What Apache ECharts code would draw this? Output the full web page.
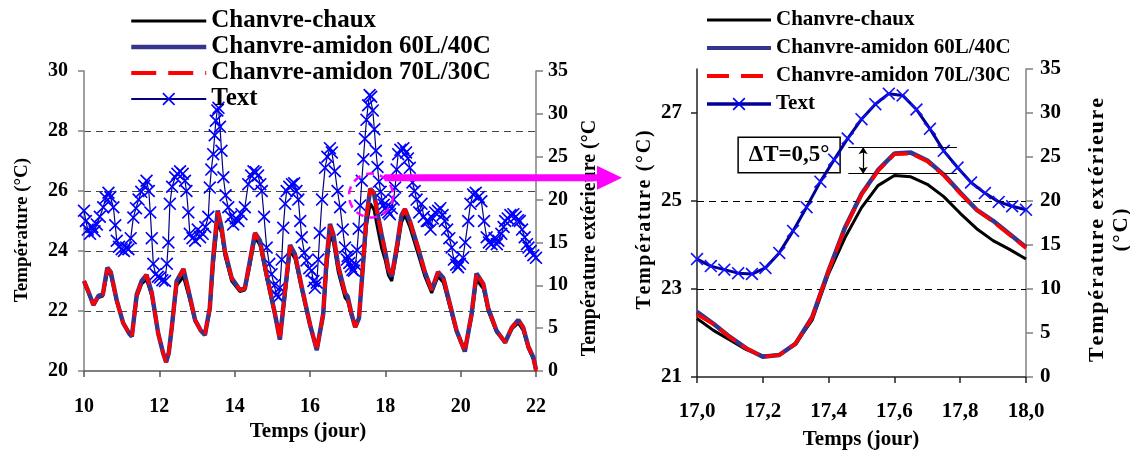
<!DOCTYPE html>
<html><head><meta charset="utf-8">
<script src="https://cdn.jsdelivr.net/npm/echarts@6/dist/echarts.min.js"></script>
<style>html,body{margin:0;padding:0;background:#fff}#c{width:1130px;height:453px}</style>
</head><body><div id="c"></div>
<script>
// ---------------- DATA ----------------
const seriesNames = ['Chanvre-chaux', 'Chanvre-amidon 60L/40C', 'Chanvre-amidon 70L/30C', 'Text'];

// Left chart: days 10-22
const leftDays = [10.0,10.1,10.25,10.38,10.5,10.62,10.71,10.87,11.04,11.2,11.27,11.4,11.53,11.66,11.8,11.97,12.1,12.18,12.25,12.33,12.46,12.64,12.77,12.95,13.1,13.21,13.34,13.43,13.55,13.65,13.74,13.92,14.14,14.27,14.41,14.54,14.67,14.85,15.07,15.2,15.34,15.47,15.6,15.78,16.0,16.18,16.35,16.44,16.53,16.62,16.75,16.93,17.0,17.1,17.2,17.3,17.4,17.5,17.6,17.7,17.8,17.9,18.0,18.08,18.17,18.3,18.43,18.52,18.65,18.87,19.05,19.23,19.4,19.54,19.72,19.89,20.11,20.29,20.42,20.6,20.73,20.95,21.18,21.36,21.53,21.66,21.8,21.93,22.0];
const leftChaux = [22.95,22.65,22.2,22.45,22.5,23.3,23.2,22.3,21.6,21.25,21.15,22.45,22.9,23.05,22.5,21.25,20.6,20.3,20.6,21.4,22.85,23.15,22.55,21.65,21.35,21.2,22.0,23.5,25.0,24.6,23.85,23.0,22.65,22.7,23.55,24.45,24.2,23.1,21.85,21.05,22.55,24.0,23.75,22.7,21.5,20.7,21.8,23.4,24.5,24.3,23.3,22.45,22.33,21.84,21.48,21.76,23.35,24.85,25.58,25.38,24.72,24.1,23.68,23.2,23.0,23.9,24.95,25.2,24.8,23.9,23.15,22.6,23.15,22.95,22.1,21.3,20.65,21.8,23.05,22.75,22.0,21.3,20.95,21.4,21.6,21.35,20.75,20.4,20.0];
const leftAm60 = [23.0,22.7,22.2,22.5,22.55,23.45,23.3,22.35,21.6,21.25,21.15,22.55,23.0,23.2,22.6,21.25,20.6,20.3,20.6,21.45,23.0,23.4,22.7,21.7,21.35,21.2,22.1,23.8,25.35,24.8,24.0,23.1,22.7,22.75,23.7,24.6,24.35,23.2,21.9,21.05,22.7,24.2,23.9,22.8,21.55,20.7,21.9,23.7,24.9,24.55,23.5,22.6,22.48,21.91,21.46,21.76,23.42,25.16,26.08,25.92,25.19,24.55,23.95,23.4,23.15,24.1,25.2,25.4,25.0,24.1,23.3,22.7,23.3,23.1,22.2,21.35,20.65,21.9,23.25,22.9,22.1,21.35,20.95,21.45,21.7,21.45,20.8,20.45,20.05];
const leftAm70 = [23.0,22.7,22.2,22.5,22.55,23.4,23.3,22.35,21.6,21.25,21.15,22.5,23.0,23.2,22.6,21.25,20.6,20.3,20.6,21.45,23.0,23.4,22.7,21.7,21.35,21.2,22.1,23.8,25.3,24.8,24.0,23.1,22.7,22.75,23.7,24.6,24.3,23.2,21.9,21.05,22.7,24.15,23.9,22.8,21.55,20.7,21.9,23.7,24.85,24.55,23.5,22.6,22.42,21.9,21.46,21.76,23.42,25.14,26.06,25.9,25.17,24.55,23.93,23.4,23.15,24.1,25.15,25.4,25.0,24.1,23.3,22.7,23.3,23.1,22.2,21.35,20.65,21.9,23.25,22.9,22.1,21.35,20.95,21.45,21.7,21.45,20.8,20.45,20.0];

const leftTextDays = [10.0,10.05,10.1,10.16,10.22,10.28,10.34,10.42,10.51,10.58,10.65,10.7,10.78,10.83,10.87,10.93,11.0,11.06,11.12,11.18,11.24,11.31,11.38,11.45,11.52,11.6,11.66,11.72,11.76,11.8,11.84,11.9,11.96,12.02,12.08,12.15,12.2,12.24,12.28,12.34,12.42,12.48,12.55,12.62,12.68,12.72,12.77,12.81,12.88,12.95,13.02,13.08,13.15,13.22,13.3,13.34,13.38,13.43,13.47,13.5,13.54,13.57,13.61,13.65,13.7,13.76,13.83,13.9,13.96,14.03,14.1,14.18,14.27,14.36,14.44,14.5,14.56,14.62,14.68,14.72,14.78,14.85,14.92,14.98,15.05,15.11,15.16,15.2,15.25,15.29,15.34,15.38,15.45,15.52,15.58,15.64,15.69,15.74,15.78,15.85,15.91,15.98,16.04,16.09,16.13,16.18,16.22,16.26,16.32,16.4,16.46,16.53,16.58,16.66,16.73,16.8,16.87,16.93,16.98,17.0,17.042,17.083,17.125,17.167,17.208,17.25,17.292,17.333,17.375,17.417,17.458,17.5,17.542,17.583,17.625,17.667,17.708,17.75,17.792,17.833,17.875,17.917,17.958,18.0,18.04,18.08,18.12,18.17,18.22,18.26,18.3,18.34,18.4,18.48,18.55,18.6,18.65,18.72,18.78,18.83,18.9,18.96,19.02,19.1,19.14,19.2,19.26,19.32,19.4,19.46,19.52,19.58,19.64,19.7,19.76,19.82,19.88,19.93,19.98,20.06,20.12,20.2,20.26,20.33,20.4,20.48,20.55,20.62,20.69,20.75,20.82,20.9,20.96,21.0,21.08,21.14,21.18,21.25,21.32,21.4,21.46,21.52,21.57,21.63,21.7,21.76,21.8,21.86,21.93,22.0];
const leftText = [18.7,17.5,16.5,16.0,16.8,16.3,17.1,18.0,19.1,20.2,20.8,20.3,19.1,17.0,15.2,14.5,14.2,14.0,14.4,14.2,15.5,17.9,19.0,20.0,20.9,21.6,22.2,21.0,18.5,15.5,12.5,11.3,11.0,10.9,10.6,10.5,12.5,15.0,19.5,21.5,22.6,23.0,23.3,23.0,22.2,21.0,18.5,16.0,15.5,15.2,16.5,15.6,16.0,16.8,18.0,21.4,23.5,25.3,27.5,29.2,30.4,30.7,28.5,25.7,22.6,20.5,19.1,18.0,17.1,17.8,17.5,18.3,19.1,21.8,22.8,23.3,23.2,22.8,21.8,21.0,18.0,14.4,12.5,11.3,10.0,8.9,8.6,9.7,13.0,16.7,19.5,21.0,21.5,21.8,21.9,21.0,20.0,17.5,15.6,13.8,12.9,12.0,11.7,10.5,9.7,10.3,13.0,16.1,20.0,23.7,25.0,26.0,25.5,23.3,21.0,19.1,16.5,14.4,13.0,13.4,12.6,12.2,11.8,11.7,12.4,14.1,16.6,19.3,22.2,24.7,27.1,29.3,31.0,32.2,32.0,30.4,28.2,25.7,23.8,22.1,20.9,19.9,19.4,19.0,18.8,18.5,18.3,19.0,20.0,21.4,23.5,25.3,25.8,26.0,25.5,24.8,23.7,22.0,21.0,20.0,18.5,19.5,18.0,17.5,17.5,16.5,17.8,18.5,18.7,19.0,18.2,17.5,16.5,15.5,14.4,13.0,12.4,12.1,12.5,13.2,15.0,17.5,19.5,20.6,20.8,20.3,19.8,17.5,15.6,15.0,14.8,15.5,14.8,15.2,16.0,16.8,17.5,17.8,18.2,18.3,18.0,17.6,17.5,16.5,15.6,14.8,14.4,14.0,13.5,13.2];

// Right chart: zoom on day 17-18
const rightDays = [17.0,17.05,17.1,17.15,17.2,17.25,17.3,17.35,17.4,17.45,17.5,17.55,17.6,17.65,17.7,17.75,17.8,17.85,17.9,17.95,18.0];
const rightChaux = [22.33,22.06,21.84,21.62,21.48,21.5,21.76,22.29,23.35,24.17,24.85,25.35,25.58,25.55,25.38,25.1,24.72,24.37,24.1,23.9,23.68];
const rightAm60  = [22.48,22.21,21.91,21.65,21.46,21.5,21.76,22.36,23.42,24.4,25.16,25.7,26.08,26.1,25.92,25.6,25.19,24.8,24.55,24.25,23.95];
const rightAm70  = [22.42,22.2,21.9,21.65,21.46,21.5,21.76,22.35,23.42,24.38,25.14,25.68,26.06,26.08,25.9,25.58,25.17,24.8,24.53,24.23,23.93];
const rightTextDays = [17.0,17.042,17.083,17.125,17.167,17.208,17.25,17.292,17.333,17.375,17.417,17.458,17.5,17.542,17.583,17.625,17.667,17.708,17.75,17.792,17.833,17.875,17.917,17.958,18.0];
const rightText = [13.4,12.6,12.2,11.8,11.7,12.4,14.1,16.6,19.3,22.2,24.7,27.1,29.3,31.0,32.2,32.0,30.4,28.2,25.7,23.8,22.1,20.9,19.9,19.4,19.0];

// Annotation values (right chart)
const deltaLabel = 'ΔT=0,5°';
const deltaTop = 26.22, deltaBottom = 25.62;

// ---------------- CHART ----------------
const FONT = '"Liberation Serif", "Times New Roman", serif';
const XSYM = 'path://M0,0.9L0.9,0L5,4.1L9.1,0L10,0.9L5.9,5L10,9.1L9.1,10L5,5.9L0.9,10L0,9.1L4.1,5Z';
const zip = (xs, ys) => xs.map((x, i) => [x, ys[i]]);
const spaced = (s, sp) => s.split('').join(sp);

const BLUE60 = '#35358f';
const NOSYM = {opacity: 0, color: 'rgba(0,0,0,0)', borderWidth: 0};
const lbl = (size, extra) => Object.assign({fontFamily: FONT, fontWeight: 'bold', fontSize: size, color: '#000'}, extra || {});

const chart = echarts.init(document.getElementById('c'), null, {renderer: 'canvas'});

const option = {
  animation: false,
  backgroundColor: '#fff',
  grid: [
    {left: 84, top: 71, width: 452, height: 300},
    {left: 697, top: 69, width: 329, height: 308}
  ],
  xAxis: [
    {gridIndex: 0, type: 'value', min: 10, max: 22, interval: 2,
     axisLine: {show: true, lineStyle: {color: '#555', width: 1.5}},
     axisTick: {show: true, length: 6, lineStyle: {color: '#555', width: 1.5}},
     axisLabel: lbl(20, {margin: 26}), splitLine: {show: false}},
    {gridIndex: 1, type: 'value', min: 17, max: 18, interval: 0.2,
     axisLine: {show: true, lineStyle: {color: '#222', width: 1.5}},
     axisTick: {show: true, length: 6, lineStyle: {color: '#222', width: 1.5}},
     axisLabel: lbl(21, {margin: 24, formatter: v => v.toFixed(1).replace('.', ',')}),
     splitLine: {show: false}}
  ],
  yAxis: [
    {gridIndex: 0, type: 'value', position: 'left', min: 20, max: 30, interval: 2,
     axisLine: {show: true, lineStyle: {color: '#808080', width: 1.5}},
     axisTick: {show: true, length: 6, lineStyle: {color: '#808080', width: 1.5}},
     axisLabel: lbl(20, {margin: 16}),
     splitLine: {show: true, showMinLine: false, showMaxLine: false, lineStyle: {color: '#444', width: 1, type: [7, 5]}}},
    {gridIndex: 0, type: 'value', position: 'right', min: 0, max: 35, interval: 5,
     axisLine: {show: true, lineStyle: {color: '#808080', width: 1.5}},
     axisTick: {show: true, length: 7, lineStyle: {color: '#808080', width: 1.5}},
     axisLabel: lbl(20, {margin: 12}), splitLine: {show: false}},
    {gridIndex: 1, type: 'value', position: 'left', min: 21, max: 28,
     axisLine: {show: true, lineStyle: {color: '#222', width: 1.5}},
     axisTick: {show: true, length: 6, customValues: [21, 23, 25, 27], lineStyle: {color: '#222', width: 1.5}},
     axisLabel: lbl(21, {margin: 15, customValues: [21, 23, 25, 27]}), splitLine: {show: false}},
    {gridIndex: 1, type: 'value', position: 'right', min: 0, max: 35, interval: 5,
     axisLine: {show: true, lineStyle: {color: '#808080', width: 1.5}},
     axisTick: {show: true, length: 7, lineStyle: {color: '#808080', width: 1.5}},
     axisLabel: lbl(21, {margin: 14}), splitLine: {show: false}}
  ],
  legend: [
    {left: 129, top: 8, padding: 0, orient: 'vertical', itemWidth: 75, itemHeight: 16, itemGap: 0, selectedMode: false,
     textStyle: lbl(25, {lineHeight: 26}),
     data: [
       {name: seriesNames[0], itemStyle: NOSYM, lineStyle: {color: '#000', width: 3}},
       {name: seriesNames[1], itemStyle: NOSYM, lineStyle: {color: BLUE60, width: 4.5}},
       {name: seriesNames[2], itemStyle: NOSYM, lineStyle: {color: '#ff0000', width: 4, type: [25, 12]}},
       {name: seriesNames[3], itemStyle: {color: '#0000ff'}, lineStyle: {color: '#000080', width: 2}}
     ]},
    {left: 705, top: 6, padding: 0, orient: 'vertical', itemWidth: 64, itemHeight: 16, itemGap: 0, selectedMode: false,
     textStyle: lbl(21, {lineHeight: 28}),
     data: [
       {name: seriesNames[0], itemStyle: NOSYM, lineStyle: {color: '#000', width: 3}},
       {name: seriesNames[1], itemStyle: NOSYM, lineStyle: {color: BLUE60, width: 4}},
       {name: seriesNames[2], itemStyle: NOSYM, lineStyle: {color: '#ff0000', width: 4, type: [22, 12]}},
       {name: seriesNames[3], itemStyle: {color: '#0000ff'}, lineStyle: {color: '#000099', width: 3.5}}
     ]}
  ],
  series: [
    {name: seriesNames[3], type: 'line', xAxisIndex: 0, yAxisIndex: 1, data: zip(leftTextDays, leftText),
     symbol: XSYM, symbolSize: 13, itemStyle: {color: '#0000ff'}, lineStyle: {color: '#000080', width: 1.2}, z: 2},
    {name: seriesNames[0], type: 'line', xAxisIndex: 0, yAxisIndex: 0, data: zip(leftDays, leftChaux),
     showSymbol: false, symbol: 'none', itemStyle: {color: '#000'}, lineStyle: {color: '#000', width: 3}, z: 3},
    {name: seriesNames[1], type: 'line', xAxisIndex: 0, yAxisIndex: 0, data: zip(leftDays, leftAm60),
     showSymbol: false, symbol: 'none', itemStyle: {color: BLUE60}, lineStyle: {color: BLUE60, width: 4.5}, z: 4},
    {name: seriesNames[2], type: 'line', xAxisIndex: 0, yAxisIndex: 0, data: zip(leftDays, leftAm70),
     showSymbol: false, symbol: 'none', itemStyle: {color: '#ff0000'}, lineStyle: {color: '#ff0000', width: 3.5, type: [14, 6]}, z: 5},

    {name: seriesNames[3], type: 'line', xAxisIndex: 1, yAxisIndex: 3, data: zip(rightTextDays, rightText),
     symbol: XSYM, symbolSize: 13, itemStyle: {color: '#1010ff'}, lineStyle: {color: '#000099', width: 3}, z: 2},
    {name: seriesNames[0], type: 'line', xAxisIndex: 1, yAxisIndex: 2, data: zip(rightDays, rightChaux),
     showSymbol: false, symbol: 'none', itemStyle: {color: '#000'}, lineStyle: {color: '#000', width: 3}, z: 3,
     markLine: {silent: true, symbol: ['none', 'none'], label: {show: false},
       lineStyle: {color: '#000', width: 1, type: [7, 5]},
       data: [{yAxis: 23}, {yAxis: 25}]}},
    {name: seriesNames[1], type: 'line', xAxisIndex: 1, yAxisIndex: 2, data: zip(rightDays, rightAm60),
     showSymbol: false, symbol: 'none', itemStyle: {color: BLUE60}, lineStyle: {color: BLUE60, width: 4.5}, z: 4,
     markArea: {silent: true, itemStyle: {color: '#fff', borderColor: '#000', borderWidth: 1.5},
       label: lbl(23, {show: true, position: 'inside', formatter: deltaLabel}),
       data: [[{coord: [17.125, 26.45]}, {coord: [17.435, 25.64]}]]},
     markLine: {silent: true, symbol: ['none', 'none'], label: {show: false},
       lineStyle: {color: '#000', width: 1.2, type: 'solid'},
       data: [
         [{coord: [17.46, deltaTop]}, {coord: [17.79, deltaTop]}],
         [{coord: [17.46, deltaBottom]}, {coord: [17.79, deltaBottom]}],
         [{coord: [17.505, deltaTop], symbol: 'arrow', symbolSize: 7}, {coord: [17.505, deltaBottom], symbol: 'arrow', symbolSize: 7}]
       ]}},
    {name: seriesNames[2], type: 'line', xAxisIndex: 1, yAxisIndex: 2, data: zip(rightDays, rightAm70),
     showSymbol: false, symbol: 'none', itemStyle: {color: '#ff0000'}, lineStyle: {color: '#ff0000', width: 3.5, type: [20, 7]}, z: 5}
  ]
};
chart.setOption(option);

// titles and magenta annotation
const pc = chart.convertToPixel({xAxisIndex: 0, yAxisIndex: 0}, [17.62, 25.85]);
const pa = chart.convertToPixel({xAxisIndex: 0, yAxisIndex: 0}, [17.98, 26.44]);
const pr = chart.convertToPixel({xAxisIndex: 1, yAxisIndex: 2}, [17.0, 21]);
const tipX = pr[0] - 75;
const vtext = (x, y, text, size) => ({type: 'text', x: x, y: y, rotation: Math.PI / 2, z: 50,
  style: {text: text, font: 'bold ' + size + 'px ' + FONT, fill: '#000', align: 'center', verticalAlign: 'middle'}});
const htext = (x, y, text, size) => ({type: 'text', x: x, y: y, z: 50,
  style: {text: text, font: 'bold ' + size + 'px ' + FONT, fill: '#000', align: 'center', verticalAlign: 'middle'}});
chart.setOption({graphic: [
  vtext(22, 230, 'Température (°C)', 19),
  vtext(590, 238, 'Température extérieure (°C', 20),
  htext(308, 432, 'Temps (jour)', 21),
  htext(861, 440, 'Temps (jour)', 21),
  vtext(645, 220, spaced('Température (°C)', '\u200A'), 20),
  vtext(1097, 230, spaced('Température extérieure', '\u200A'), 22),
  vtext(1122, 230, spaced('(°C)', '\u200A'), 21),
  {type: 'circle', z: 100, shape: {cx: pc[0], cy: pc[1], r: 22},
   style: {fill: 'none', stroke: '#ff00ff', lineWidth: 2.5, lineDash: [8, 6]}},
  {type: 'rect', z: 100, shape: {x: pa[0], y: pa[1] - 3.5, width: tipX - 24 - pa[0], height: 7}, style: {fill: '#ff00ff'}},
  {type: 'polygon', z: 100, shape: {points: [[tipX - 25, pa[1] - 12], [tipX, pa[1]], [tipX - 25, pa[1] + 12]]}, style: {fill: '#ff00ff'}}
]});
</script></body></html>
